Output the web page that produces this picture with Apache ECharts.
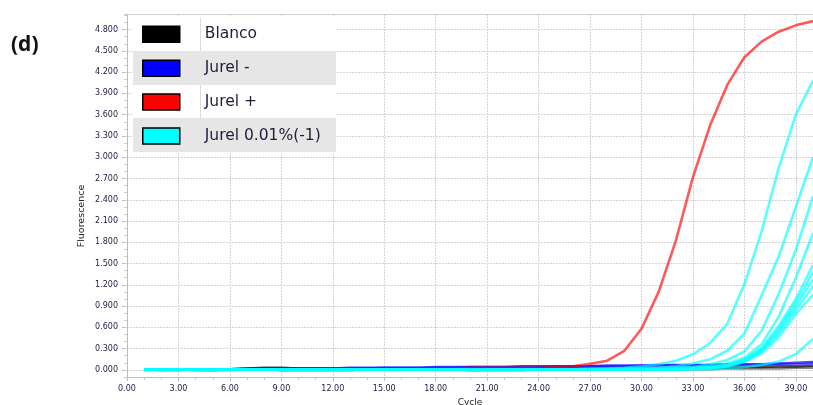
<!DOCTYPE html>
<html>
<head>
<meta charset="utf-8">
<script src="https://cdn.jsdelivr.net/npm/echarts@6/dist/echarts.min.js"></script>
<style>html,body{margin:0;padding:0;background:#fff;}#c{width:813px;height:405px;}</style>
</head>
<body>
<div id="c"></div>
<script>
var cycles = [1,2,3,4,5,6,7,8,9,10,11,12,13,14,15,16,17,18,19,20,21,22,23,24,25,26,27,28,29,30,31,32,33,34,35,36,37,38,39,40];
var yTickValues = [0,0.3,0.6,0.9,1.2,1.5,1.8,2.1,2.4,2.7,3.0,3.3,3.6,3.9,4.2,4.5,4.8];
var legendNames = ['Blanco','Jurel -','Jurel +','Jurel 0.01%(-1)'];

var blanco1 = [0.01,0.00,0.00,0.01,0.01,0.01,0.02,0.03,0.03,0.02, 0.02,0.02,0.02,0.02,0.02,0.02,0.02,0.02,0.01,0.00, 0.01,0.02,0.02,0.02,0.02,0.02,0.02,0.02,0.02,0.02, 0.02,0.03,0.03,0.03,0.03,0.04,0.04,0.05,0.05,0.06];
var blanco2 = [0.00,0.00,0.01,0.01,0.00,0.00,0.01,0.01,0.01,0.01, 0.01,0.01,0.01,0.01,0.01,0.01,0.01,0.01,0.01,0.01, 0.01,0.01,0.01,0.01,0.01,0.01,0.01,0.01,0.01,0.01, 0.01,0.01,0.01,0.01,0.02,0.02,0.02,0.02,0.03,0.03];
var jurelNeg1 = [0.01,0.01,0.01,0.01,0.01,0.01,0.02,0.02,0.02,0.02, 0.02,0.02,0.03,0.03,0.03,0.03,0.03,0.04,0.04,0.04, 0.04,0.04,0.05,0.05,0.05,0.05,0.05,0.06,0.06,0.06, 0.07,0.07,0.07,0.07,0.08,0.08,0.08,0.09,0.10,0.11];
var jurelNeg2 = [0.01,0.01,0.01,0.01,0.01,0.01,0.01,0.02,0.02,0.02, 0.02,0.02,0.02,0.02,0.03,0.03,0.03,0.03,0.03,0.04, 0.04,0.04,0.04,0.04,0.05,0.05,0.05,0.05,0.05,0.06, 0.06,0.06,0.06,0.07,0.07,0.07,0.07,0.08,0.08,0.09];
var jurelPos = [0.01,0.01,0.00,0.01,0.01,0.01,0.01,0.01,0.00,0.01, 0.01,0.02,0.02,0.02,0.02,0.02,0.02,0.02,0.02,0.03, 0.03,0.03,0.03,0.03,0.04,0.05,0.085,0.13,0.27,0.58, 1.10,1.82,2.72,3.45,4.02,4.41,4.63,4.77,4.86,4.92];
var cyanA = [0.01,0.01,0.01,0.00,0.00,0.01,0.01,0.01,0.00,0.00, 0.00,0.00,0.00,0.01,0.01,0.01,0.01,0.01,0.01,0.00, 0.00,0.01,0.01,0.01,0.01,0.01,0.02,0.02,0.03,0.05, 0.08,0.13,0.22,0.38,0.65,1.21,1.95,2.85,3.60,4.08];
var cyanB = [0.01,0.01,0.01,0.00,0.00,0.01,0.01,0.01,0.00,0.00, 0.00,0.00,0.00,0.01,0.01,0.01,0.01,0.01,0.01,0.00, 0.00,0.00,0.01,0.01,0.01,0.01,0.01,0.01,0.02,0.02, 0.03,0.05,0.09,0.15,0.27,0.51,1.05,1.60,2.30,3.00];
var cyanC = [0.01,0.01,0.01,0.00,0.00,0.01,0.01,0.01,0.00,0.00, 0.00,0.00,0.00,0.01,0.01,0.01,0.01,0.01,0.01,0.00, 0.00,0.00,0.00,0.01,0.01,0.01,0.01,0.01,0.01,0.01, 0.02,0.03,0.04,0.08,0.14,0.26,0.55,1.07,1.69,2.45];
var cyanD = [0.01,0.01,0.01,0.00,0.00,0.01,0.01,0.01,0.00,0.00, 0.00,0.00,0.00,0.01,0.01,0.01,0.01,0.01,0.01,0.00, 0.00,0.00,0.00,0.01,0.01,0.01,0.01,0.01,0.01,0.01, 0.01,0.02,0.03,0.05,0.09,0.17,0.36,0.75,1.30,1.93];
var cyanE1 = [0.01,0.01,0.01,0.00,0.00,0.01,0.01,0.01,0.00,0.00, 0.00,0.00,0.00,0.01,0.01,0.01,0.01,0.01,0.01,0.00, 0.00,0.00,0.00,0.01,0.01,0.01,0.01,0.01,0.01,0.01, 0.01,0.01,0.02,0.04,0.07,0.15,0.31,0.62,1.00,1.48];
var cyanE2 = [0.01,0.01,0.01,0.00,0.00,0.01,0.01,0.01,0.00,0.00, 0.00,0.00,0.00,0.01,0.01,0.01,0.01,0.01,0.01,0.00, 0.00,0.00,0.00,0.01,0.01,0.01,0.01,0.01,0.01,0.01, 0.01,0.01,0.02,0.03,0.06,0.14,0.29,0.58,0.95,1.38];
var cyanE3 = [0.01,0.01,0.01,0.00,0.00,0.01,0.01,0.01,0.00,0.00, 0.00,0.00,0.00,0.01,0.01,0.01,0.01,0.01,0.01,0.00, 0.00,0.00,0.00,0.01,0.01,0.01,0.01,0.01,0.01,0.01, 0.01,0.01,0.02,0.03,0.06,0.13,0.27,0.55,0.90,1.28];
var cyanE4 = [0.01,0.01,0.01,0.00,0.00,0.01,0.01,0.01,0.00,0.00, 0.00,0.00,0.00,0.01,0.01,0.01,0.01,0.01,0.01,0.00, 0.00,0.00,0.00,0.01,0.01,0.01,0.01,0.01,0.01,0.01, 0.01,0.01,0.01,0.03,0.05,0.12,0.26,0.51,0.85,1.18];
var cyanE5 = [0.01,0.01,0.01,0.00,0.00,0.01,0.01,0.01,0.00,0.00, 0.00,0.00,0.00,0.01,0.01,0.01,0.01,0.01,0.01,0.00, 0.00,0.00,0.00,0.01,0.01,0.01,0.01,0.01,0.01,0.01, 0.01,0.01,0.01,0.02,0.05,0.11,0.23,0.46,0.79,1.06];
var cyanF = [0.01,0.01,0.01,0.00,0.00,0.01,0.01,0.01,0.00,0.00, 0.00,0.00,0.00,0.01,0.01,0.01,0.01,0.01,0.01,0.00, 0.00,0.00,0.00,0.01,0.01,0.01,0.01,0.01,0.01,0.01, 0.00,0.01,0.01,0.01,0.02,0.04,0.07,0.12,0.22,0.44];

function pairs(arr){ return cycles.map(function(c,i){ return [c, arr[i]]; }); }

var defs = [
  {name:'Blanco', data:blanco2, color:'#555555', op:0.7},
  {name:'Blanco', data:blanco1, color:'#000000', op:0.7},
  {name:'Jurel -', data:jurelNeg2, color:'#5a3cff', op:0.75},
  {name:'Jurel -', data:jurelNeg1, color:'#0000ff', op:0.7},
  {name:'Jurel +', data:jurelPos, color:'#ff0000', op:0.65},
  {name:'Jurel 0.01%(-1)', data:cyanF, color:'#00ffff', op:0.65},
  {name:'Jurel 0.01%(-1)', data:cyanE5, color:'#00ffff', op:0.65},
  {name:'Jurel 0.01%(-1)', data:cyanE4, color:'#00ffff', op:0.65},
  {name:'Jurel 0.01%(-1)', data:cyanE3, color:'#00ffff', op:0.65},
  {name:'Jurel 0.01%(-1)', data:cyanE2, color:'#00ffff', op:0.65},
  {name:'Jurel 0.01%(-1)', data:cyanE1, color:'#00ffff', op:0.65},
  {name:'Jurel 0.01%(-1)', data:cyanD, color:'#00ffff', op:0.65},
  {name:'Jurel 0.01%(-1)', data:cyanC, color:'#00ffff', op:0.65},
  {name:'Jurel 0.01%(-1)', data:cyanB, color:'#00ffff', op:0.65},
  {name:'Jurel 0.01%(-1)', data:cyanA, color:'#00ffff', op:0.65}
];

var legendColors = {'Blanco':'#000000','Jurel -':'#0000ff','Jurel +':'#ff0000','Jurel 0.01%(-1)':'#00ffff'};

var series = defs.map(function(d){
  return {
    type:'line', name:d.name, data:pairs(d.data), xAxisIndex:0, yAxisIndex:0,
    showSymbol:false, symbol:'none', smooth:false, silent:true, animation:false,
    itemStyle:{color:d.color},
    lineStyle:{color:d.color, width:2.6, opacity:d.op, join:'round'}
  };
});

var labelColor = '#22224a';
var chart = echarts.init(document.getElementById('c'), null, {renderer:'canvas'});
chart.setOption({
  animation:false,
  backgroundColor:'#ffffff',
  grid:{left:127, top:14, right:0, bottom:28, containLabel:false, outerBoundsMode:'none'},
  xAxis:[{
    type:'value', min:0, max:40, interval:3,
    name:'Cycle', nameLocation:'middle', nameGap:19,
    nameTextStyle:{fontFamily:'DejaVu Sans', fontSize:9, color:'#222222'},
    axisLine:{show:true, onZero:false, lineStyle:{color:'#bdbdbd', width:1}},
    axisTick:{show:true, length:4, lineStyle:{color:'#bdbdbd'}},
    minorTick:{show:true, splitNumber:3, length:3, lineStyle:{color:'#c8c8c8'}},
    splitLine:{show:true, lineStyle:{color:'#d4d4d4', type:[2,1], width:1}},
    axisLabel:{fontFamily:'DejaVu Sans', fontSize:8, color:labelColor, margin:8, showMaxLabel:false,
      formatter:function(v){ return v.toFixed(2); }}
  },{
    type:'value', min:0, max:40, position:'top',
    axisLine:{show:true, onZero:false, lineStyle:{color:'#cfcfcf', width:1}},
    axisTick:{show:false}, axisLabel:{show:false}, splitLine:{show:false}
  }],
  yAxis:[{
    type:'value', min:-0.1, max:5.02,
    axisLine:{show:true, onZero:false, lineStyle:{color:'#bdbdbd', width:1}},
    axisTick:{show:true, length:5, customValues:yTickValues, lineStyle:{color:'#bdbdbd'}},
    splitLine:{show:true, lineStyle:{color:'#d4d4d4', type:[2,1], width:1}},
    axisLabel:{fontFamily:'DejaVu Sans', fontSize:8, color:labelColor, margin:9, customValues:yTickValues,
      formatter:function(v){ return v.toFixed(3); }}
  },{
    type:'value', min:-0.1, max:5.02, interval:0.1, position:'left', offset:0,
    axisLine:{show:false}, axisLabel:{show:false}, splitLine:{show:false},
    axisTick:{show:true, length:3, lineStyle:{color:'#cccccc'}}
  }],
  legend:{
    show:true, orient:'vertical', left:142, top:25.5, z:20, padding:0,
    itemWidth:37, itemHeight:16, itemGap:16.4, icon:'rect',
    selectedMode:false,
    textStyle:{fontFamily:'DejaVu Sans', fontSize:15.5, color:'#1e1e3c', padding:[0,0,0,20]},
    data:legendNames.map(function(n){
      return {name:n, icon:'rect', itemStyle:{color:legendColors[n], borderColor:'#000000', borderWidth:1.5, opacity:1}};
    })
  },
  graphic:[
    {type:'rect', z:10, shape:{x:133, y:17, width:203, height:136}, style:{fill:'#ffffff'}},
    {type:'rect', z:11, shape:{x:133, y:51, width:203, height:34}, style:{fill:'#e6e6e6'}},
    {type:'rect', z:11, shape:{x:133, y:118, width:203, height:34}, style:{fill:'#e6e6e6'}},
    {type:'line', z:11, shape:{x1:200.5, y1:18, x2:200.5, y2:51}, style:{stroke:'#dcdcdc', lineWidth:1}},
    {type:'line', z:11, shape:{x1:200.5, y1:85, x2:200.5, y2:118}, style:{stroke:'#dcdcdc', lineWidth:1}},
    {type:'text', z:12, x:11, y:45, style:{text:'(d)', font:'bold 21px "Open Sans"', fill:'#111111', textVerticalAlign:'middle', textAlign:'left'}},
    {type:'text', z:12, x:82, y:216, rotation:Math.PI/2, style:{text:'Fluorescence', font:'9.5px "DejaVu Sans"', fill:'#222222', textAlign:'center', textVerticalAlign:'middle'}}
  ],
  series:series
});
</script>
</body>
</html>
